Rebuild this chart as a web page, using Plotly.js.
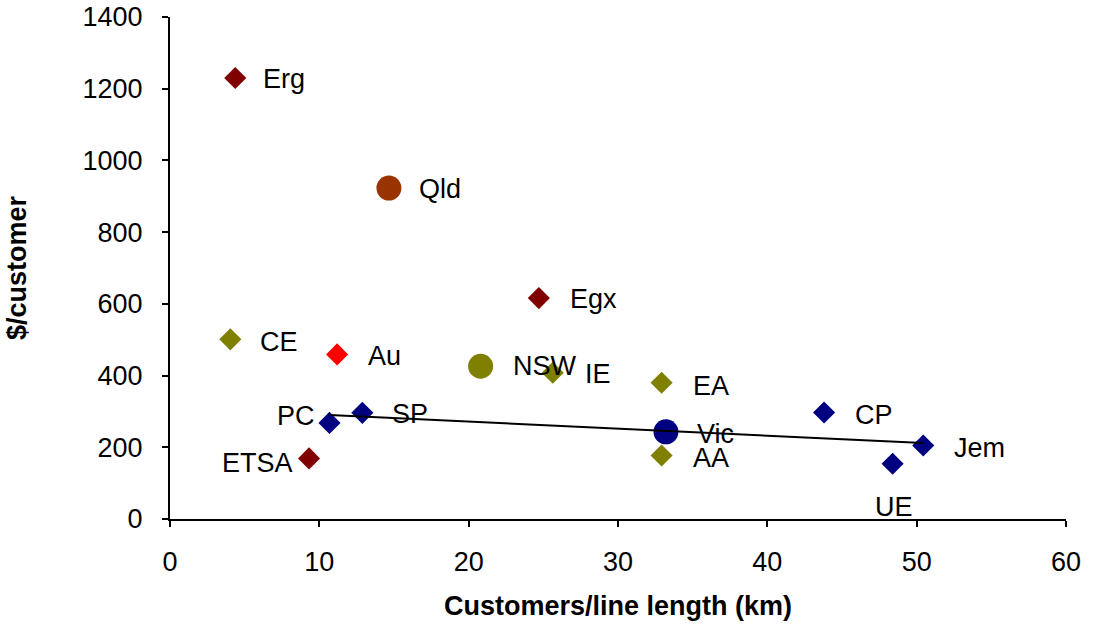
<!DOCTYPE html>
<html>
<head>
<meta charset="utf-8">
<script src="https://cdn.plot.ly/plotly-3.0.1.min.js"></script>
<style>
  html, body { margin: 0; padding: 0; background: #ffffff; }
  #chart { width: 1094px; height: 630px; }
</style>
</head>
<body>
<div id="chart"></div>
<script>
// ---- Data ----
// Qld and SA distributors
const qldSaNames = ["Erg", "Egx", "ETSA"];
const qldSaX = [4.37, 24.7, 9.31];
const qldSaY = [1230, 616, 169];

// NSW distributors
const nswNames = ["CE", "IE", "EA", "AA"];
const nswX = [4.04, 25.63, 32.92, 32.92];
const nswY = [501, 408, 380, 177];

// Victorian distributors
const vicNames = ["PC", "SP", "CP", "Jem", "UE"];
const vicX = [10.68, 12.88, 43.8, 50.44, 48.39];
const vicY = [268, 296, 297, 205, 154];

// Tasmania
const tasNames = ["Au"];
const tasX = [11.19];
const tasY = [459];

// State averages
const avgNames = ["Qld", "NSW", "Vic"];
const avgX = [14.66, 20.8, 33.21];
const avgY = [923, 426, 243];

// Trend line through the Victorian distributors (end points)
const trendX = [10.68, 50.44];
const trendY = [290, 212];

// Axis tick values
const xTicks = [0, 10, 20, 30, 40, 50, 60];
const yTicks = [0, 200, 400, 600, 800, 1000, 1200, 1400];

// ---- Styling ----
const FONT = "Liberation Sans, Arial, Helvetica, sans-serif";
const C_DARKRED = "#800000";
const C_OLIVE = "#808000";
const C_NAVY = "#000080";
const C_RED = "#FF0000";
const C_QLD = "#993300";

function diamonds(names, x, y, color) {
  return {
    type: "scatter", mode: "markers", x: x, y: y, text: names,
    hoverinfo: "text+x+y",
    marker: { symbol: "diamond", size: 17, color: color, line: { width: 0 } },
    showlegend: false
  };
}

const traces = [
  diamonds(qldSaNames, qldSaX, qldSaY, C_DARKRED),
  diamonds(nswNames, nswX, nswY, C_OLIVE),
  diamonds(vicNames, vicX, vicY, C_NAVY),
  diamonds(tasNames, tasX, tasY, C_RED),
  {
    type: "scatter", mode: "markers", x: avgX, y: avgY, text: avgNames,
    hoverinfo: "text+x+y",
    marker: { symbol: "circle", size: 25, color: [C_QLD, C_OLIVE, C_NAVY], line: { width: 0 } },
    showlegend: false
  },
  {
    type: "scatter", mode: "lines", x: trendX, y: trendY,
    line: { color: "#000000", width: 2 },
    hoverinfo: "skip", showlegend: false
  }
];

// label placement: [xanchor, xshift(px), yshift(px, positive = down)]
const labelPlace = {
  Erg: ["left", 26, 1], Egx: ["left", 29, 1], ETSA: ["right", -14, 5],
  CE: ["left", 28, 3], IE: ["left", 30, 1], EA: ["left", 29, 3], AA: ["left", 29, 2],
  PC: ["right", -12, -7], SP: ["left", 28, 1], CP: ["left", 29, 2], Jem: ["left", 29, 3],
  UE: ["center", 1, 43], Au: ["left", 29, 2],
  Qld: ["left", 28, 1], NSW: ["left", 30, 0], Vic: ["left", 29, 2]
};

const annotations = [];
function addLabels(names, xs, ys) {
  names.forEach((n, i) => {
    const p = labelPlace[n] || ["left", 28, 0];
    annotations.push({
      x: xs[i], y: ys[i], xref: "x", yref: "y", text: n, showarrow: false,
      xanchor: p[0], yanchor: "middle", xshift: p[1], yshift: -p[2],
      font: { family: FONT, size: 27, color: "#000000" }
    });
  });
}
addLabels(qldSaNames, qldSaX, qldSaY);
addLabels(nswNames, nswX, nswY);
addLabels(vicNames, vicX, vicY);
addLabels(tasNames, tasX, tasY);
addLabels(avgNames, avgX, avgY);

const layout = {
  width: 1094, height: 630,
  paper_bgcolor: "#ffffff", plot_bgcolor: "#ffffff",
  margin: { l: 170, r: 28, t: 17, b: 111, pad: 0 },
  font: { family: FONT, size: 27, color: "#000000" },
  showlegend: false,
  xaxis: {
    range: [0, 60], tickvals: xTicks, ticktext: xTicks.map(String),
    showgrid: false, zeroline: false,
    showline: true, linecolor: "#000000", linewidth: 2,
    ticks: "outside", ticklen: 6, tickwidth: 2, tickcolor: "#000000",
    tickfont: { family: FONT, size: 27, color: "#000000" },
    ticklabelstandoff: 12,
    title: { text: "Customers/line length (km)", standoff: 20,
             font: { family: FONT, size: 27, color: "#000000", weight: "bold" } },
    automargin: false, fixedrange: true
  },
  yaxis: {
    range: [0, 1400], tickvals: yTicks, ticktext: yTicks.map(String),
    showgrid: false, zeroline: false,
    showline: true, linecolor: "#000000", linewidth: 2,
    ticks: "outside", ticklen: 6, tickwidth: 2, tickcolor: "#000000",
    tickfont: { family: FONT, size: 27, color: "#000000" },
    ticklabelstandoff: 14,
    title: { text: "$/customer", standoff: 48,
             font: { family: FONT, size: 27, color: "#000000", weight: "bold" } },
    automargin: false, fixedrange: true
  },
  annotations: annotations
};

Plotly.newPlot("chart", traces, layout, { displayModeBar: false, staticPlot: true });
</script>
</body>
</html>
